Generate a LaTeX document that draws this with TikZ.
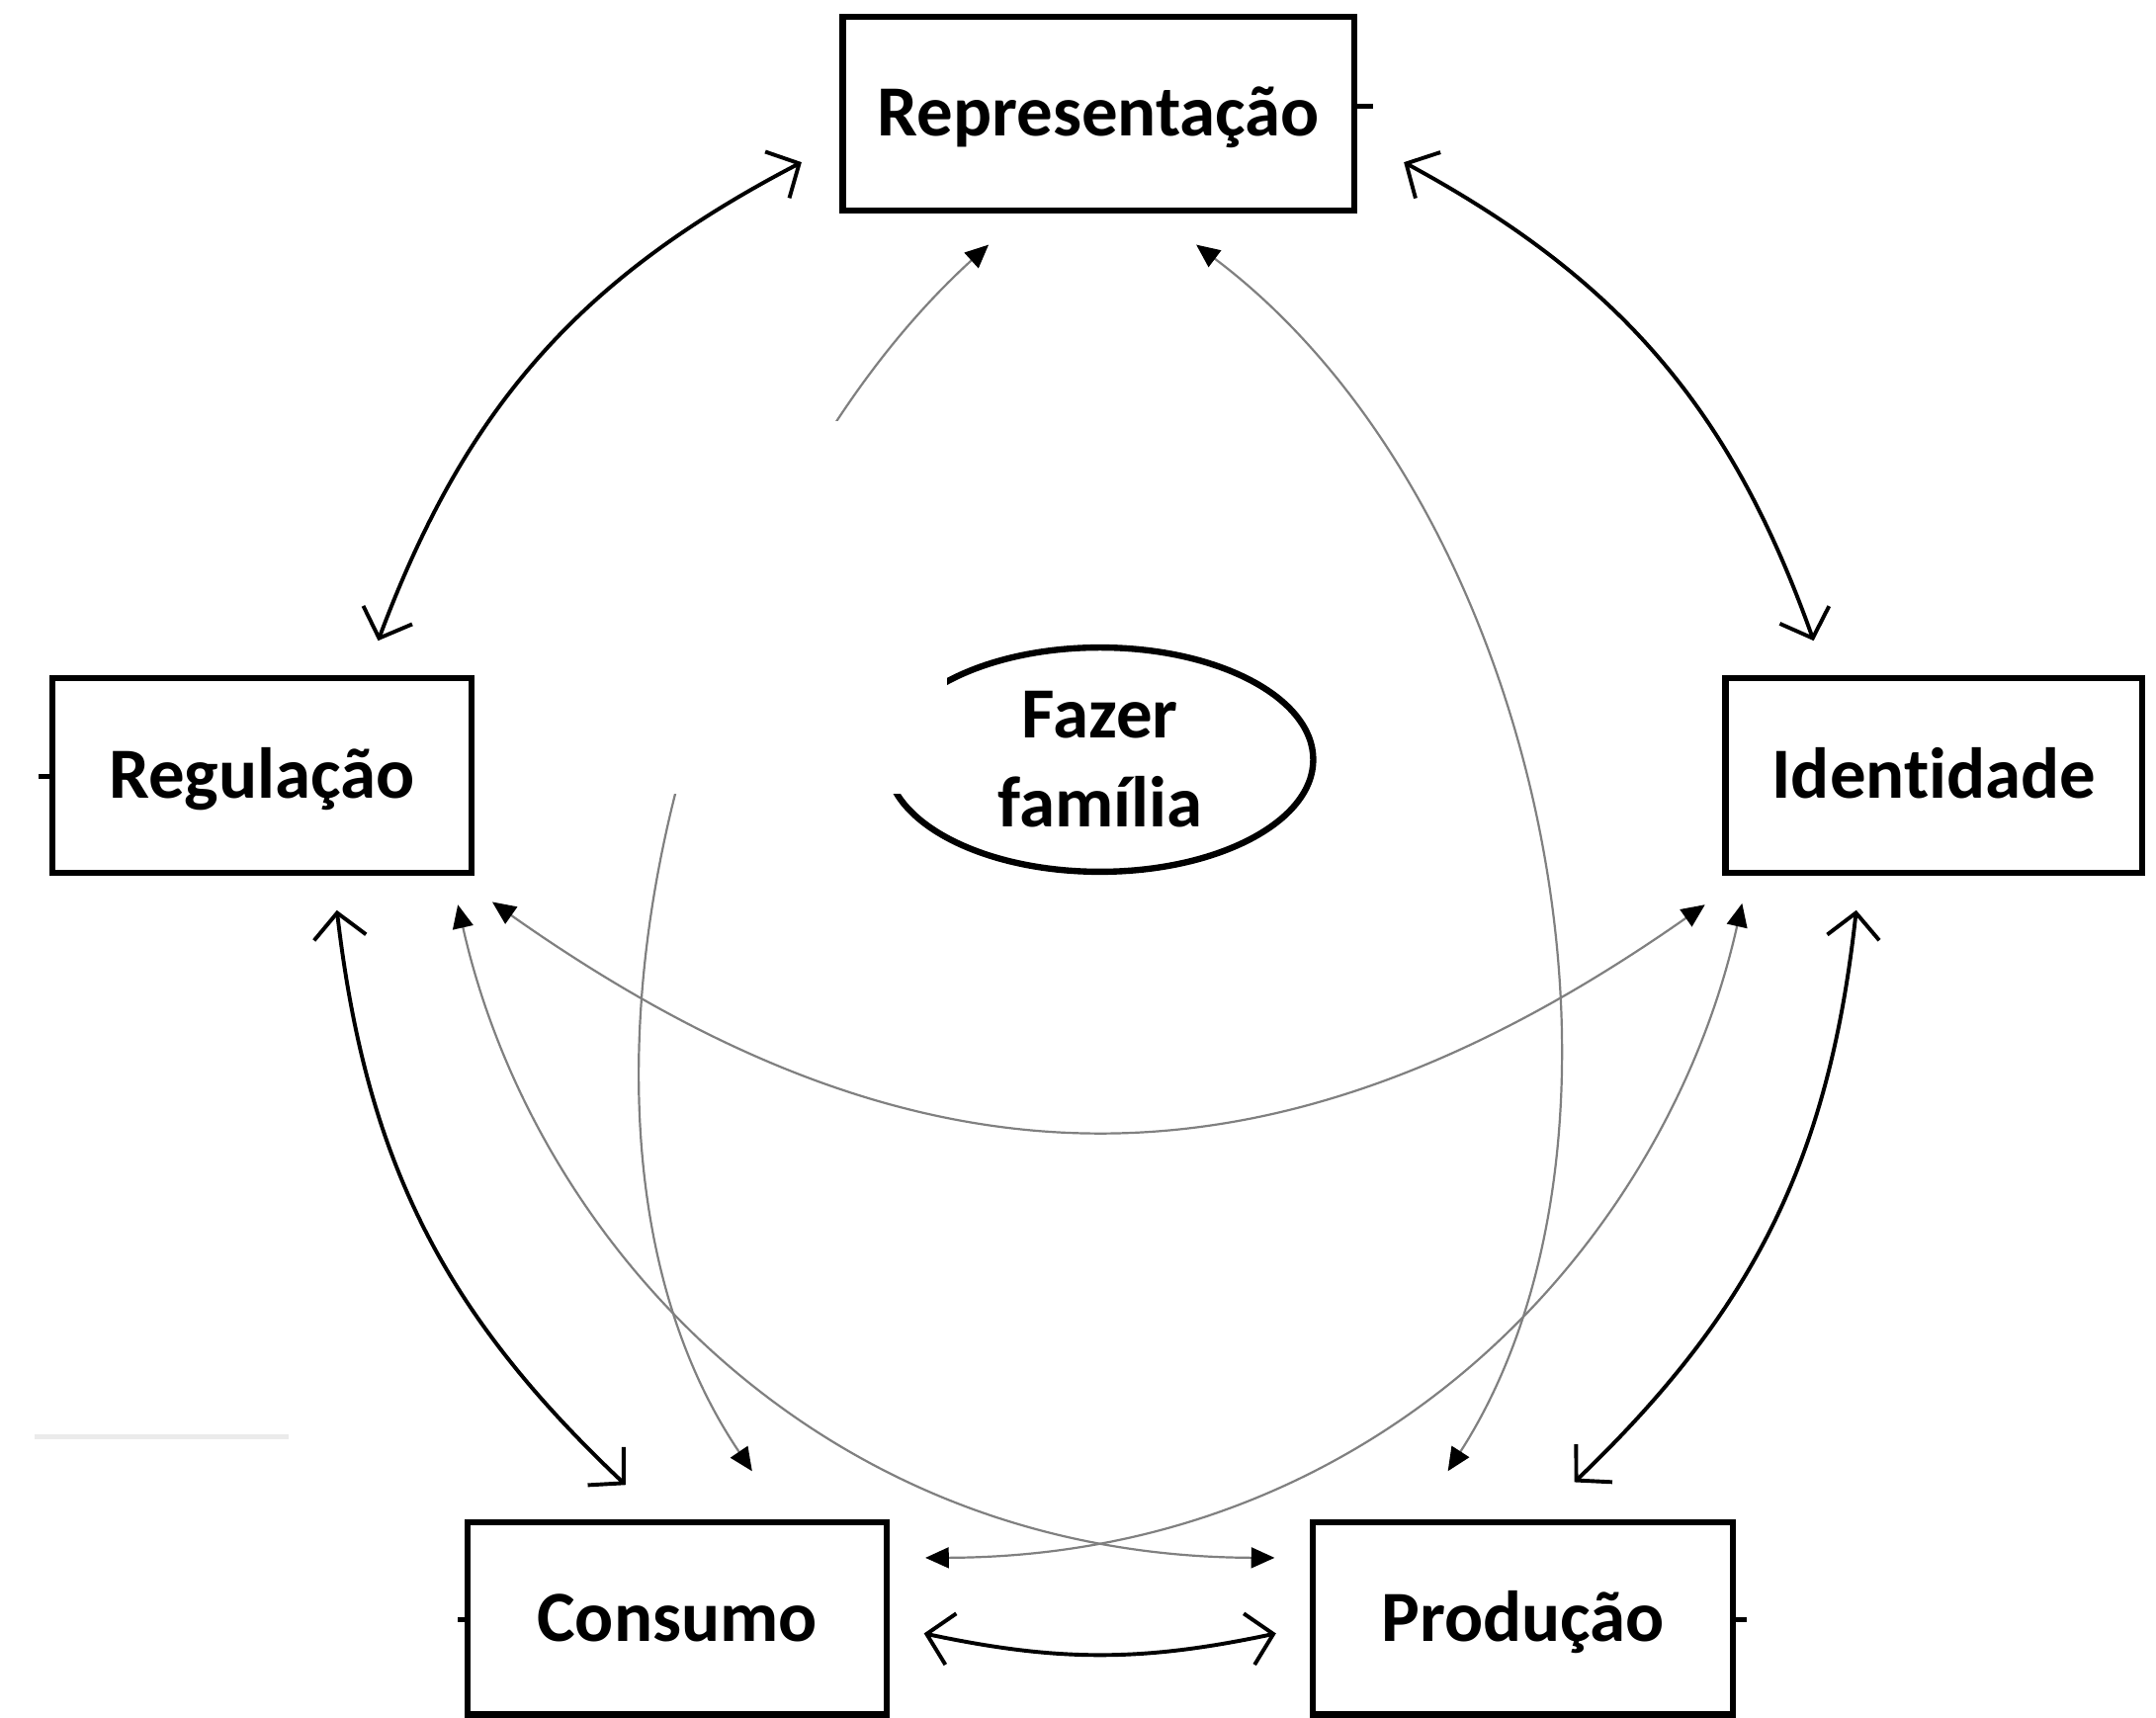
\documentclass[tikz,border=0pt]{standalone}
\usepackage{fontspec}
\setmainfont[Ligatures={NoCommon}]{Carlito}
\usetikzlibrary{arrows.meta,shapes.geometric}
\begin{document}
\begin{tikzpicture}[x=0.01cm,y=-0.01cm,
  lbl/.style={font=\fontsize{14.9}{18.4}\selectfont\bfseries},
  boxnode/.style={lbl, draw=black, line width=1.25pt, rectangle, inner sep=0pt,
    minimum height=1.41cm, text height=12.2pt, text depth=2.7pt},
  ellnode/.style={lbl, draw=black, line width=1.3pt, ellipse, inner sep=0pt,
    minimum width=3.10cm, minimum height=1.63cm, align=center},
  blk/.style={line width=0.8pt,
    {Straight Barb[length=1.8mm,width=3.8mm]}-{Straight Barb[length=1.8mm,width=3.8mm]}},
  gry/.style={draw=black!50, line width=0.45pt,
    {Triangle[length=1.7mm,width=1.5mm,color=black]}-{Triangle[length=1.7mm,width=1.5mm,color=black]}},
  tickln/.style={line width=1pt}]
\fill[white] (0,0) rectangle (1568,1249);
\useasboundingbox (0,0) rectangle (1568,1249);

% boxes
\node[boxnode, minimum width=3.72cm] (rep) at (799,82.5) {Representação};
\node[boxnode, minimum width=3.05cm] (reg) at (190.5,564) {Regulação};
\node[boxnode, minimum width=3.03cm] (ide) at (1406.5,564) {Identidade};
\node[boxnode, minimum width=3.05cm, minimum height=1.40cm] (con) at (492.5,1177) {Consumo};
\node[boxnode, minimum width=3.05cm, minimum height=1.40cm] (pro) at (1107.5,1177) {Produção};
\node[ellnode] (faz) at (800,552.5) {Fazer\\família};

% connector end points
\coordinate (regN) at (275,466);
\coordinate (repW) at (583,118);
\coordinate (repE) at (1021,118);
\coordinate (ideN) at (1319,466);
\coordinate (regS) at (245,662);
\coordinate (conN) at (455,1080);
\coordinate (ideS) at (1350,662);
\coordinate (proN) at (1145,1078);
\coordinate (conE) at (672,1188);
\coordinate (proW) at (928,1188);

\coordinate (gAtop) at (719,178);
\coordinate (gAbot) at (547,1070);
\coordinate (gBtop) at (870,178);
\coordinate (gBbot) at (1053,1070);
\coordinate (gCl) at (358,656);
\coordinate (gCr) at (1240,658);
\coordinate (gDl) at (333,658);
\coordinate (gDr) at (927,1133);
\coordinate (gEr) at (1267,657);
\coordinate (gEl) at (673,1133);

% grey connectors
\draw[gry] (gAbot) .. controls (380,823) and (496,381) .. (gAtop);
\draw[gry] (gBbot) .. controls (1212,823) and (1125,370) .. (gBtop);
\draw[gry] (gCl) .. controls (670,876) and (926,878) .. (gCr);
\draw[gry] (gDl) .. controls (388,903) and (596,1132) .. (gDr);
\draw[gry] (gEr) .. controls (1212,903) and (1004,1132) .. (gEl);

% black connectors
\draw[blk] (regN) to[bend left=21] (repW);
\draw[blk] (repE) to[bend left=21] (ideN);
\draw[blk] (regS) to[bend right=20] (conN);
\draw[blk] (ideS) to[bend left=20] (proN);
\draw[blk] (conE) to[bend right=12] (proW);

% erased area
\fill[white] (440,306) rectangle (689,577);

% small ticks
\draw[tickln] (rep.east) ++(0,-5.5) -- ++(11,0);
\draw[tickln] (reg.west) ++(0,1) -- ++(-8,0);
\draw[tickln] (pro.east) ++(0,1) -- ++(8,0);
\draw[tickln] (con.west) ++(0,1) -- ++(-5,0);
\draw[black!8, line width=1.2pt] (25,1045) -- (210,1045);
\end{tikzpicture}
\end{document}
